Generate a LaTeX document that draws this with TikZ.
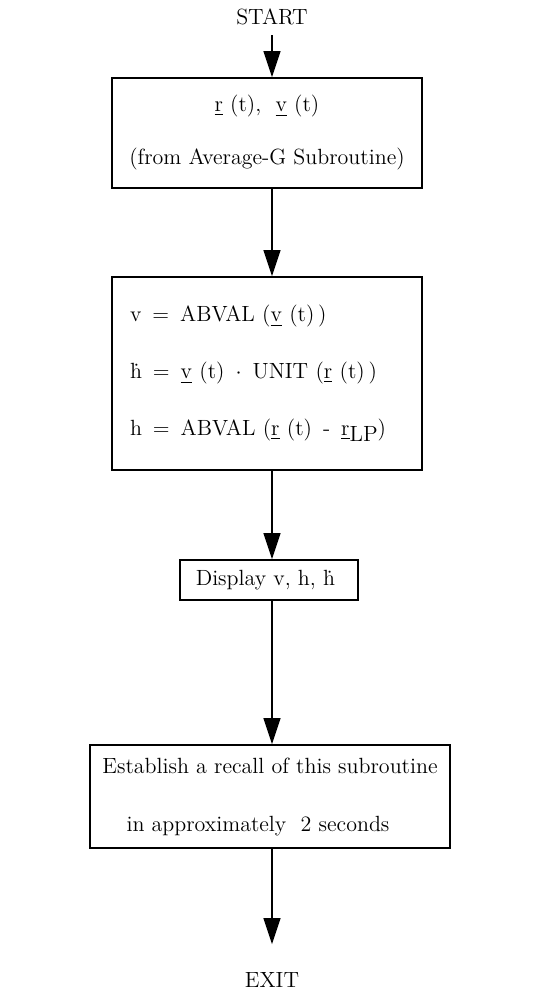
\documentclass[tikz,border=0pt]{standalone}
\usepackage{tikz}
\usetikzlibrary{arrows.meta, positioning}

\begin{document}
\begin{tikzpicture}[
    x=0.5pt, y=-0.5pt,
    font=\fontsize{11}{13}\selectfont,
    stepbox/.style={rectangle, draw, line width=0.9pt, inner sep=0pt, align=center},
    flow/.style={line width=0.7pt, -{Triangle[length=13pt, width=8.5pt]}},
    term/.style={inner sep=0pt}
]
    \useasboundingbox (0,0) rectangle (542,993);

    % Entry point
    \node[term] (start) at (272,17) {START};

    % Position and velocity input
    \node[stepbox, minimum width=155pt, minimum height=55pt] (input) at (267,133) {
        \underline{r}\ (t),\ \ \underline{v}\ (t)\\[13.5pt]
        (from Average-G Subroutine)
    };

    % Speed, altitude rate and altitude
    \node[stepbox, minimum width=155pt, minimum height=96.5pt, text width=137pt, align=left] (calc) at (267,373.5) {
        v\enskip=\enskip ABVAL\ (\underline{v}\ (t)\,)\\[15.5pt]
        \.{h}\enskip=\enskip\underline{v}\ (t)\enskip$\cdot$\enskip UNIT\ (\underline{r}\ (t)\,)\\[15.5pt]
        h\enskip=\enskip ABVAL\ (\underline{r}\ (t)\enskip-\enskip\underline{r}\raisebox{-0.6ex}{LP})
    };

    % Display
    \node[stepbox, minimum width=89pt, minimum height=20pt] (display) at (269,580) {
        Display v,\ h,\ \.{h}
    };

    % Recall
    \node[stepbox, minimum width=180pt, minimum height=51.5pt] (recall) at (270,796.5) {
        Establish a recall of this subroutine\\[16pt]
        in approximately\ \ 2 seconds\hspace*{12pt}
    };

    % Exit point
    \node[term] (exit) at (272,980) {EXIT};

    % Arrows
    \draw[flow, shorten <=5pt] (start.south) -- (input.north -| start.south);
    \draw[flow] (input.south -| start) -- (calc.north -| start);
    \draw[flow] (calc.south -| start) -- (display.north -| start);
    \draw[flow] (display.south -| start) -- (recall.north -| start);
    \draw[flow, shorten >=14pt] (recall.south -| start) -- (exit.north);
\end{tikzpicture}
\end{document}
